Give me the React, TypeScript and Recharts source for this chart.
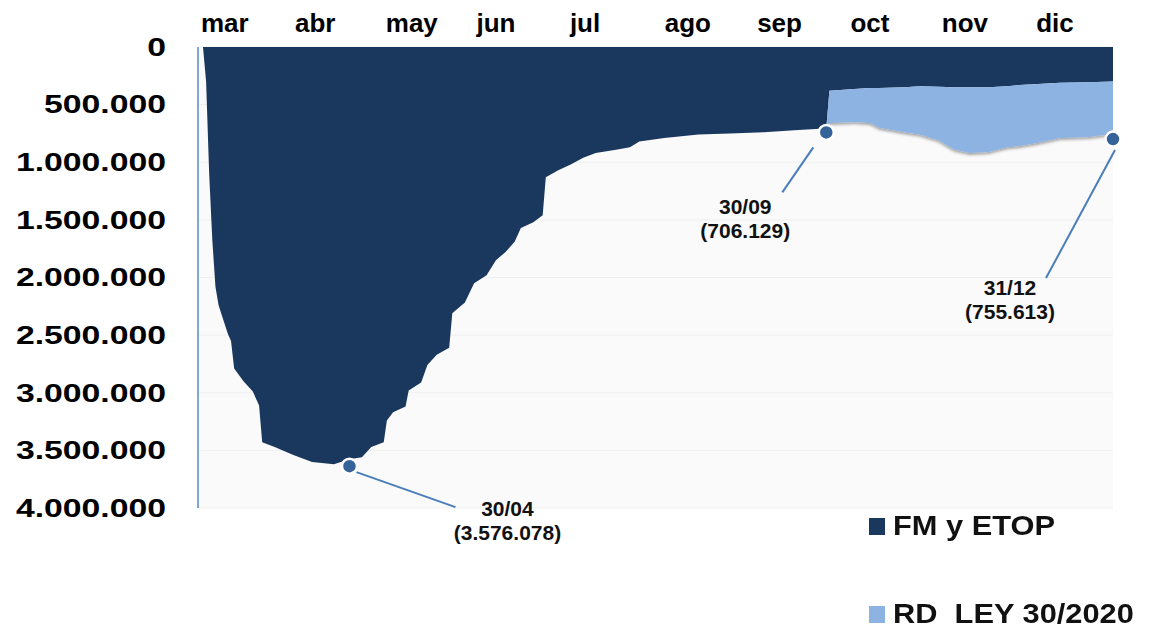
import {
  ComposedChart,
  Area,
  XAxis,
  YAxis,
  CartesianGrid,
  ReferenceDot,
} from 'recharts';

// day index: 0 = 1 March 2020
const days = [
  13, 14, 15, 16, 17, 18, 21, 22, 23, 26, 29, 31, 32, 36, 42, 48, 55, 60, 64, 67,
  71, 72, 74, 78, 79, 83, 85, 88, 92, 93, 96, 97, 100, 104, 107, 110, 113, 115, 119, 122,
  123, 127, 131, 135, 139, 146, 150, 153, 161, 172, 182, 193, 204, 211, 213,
  214, 222, 227, 230, 238, 243, 249, 254, 259, 265, 271, 275, 281, 288, 297, 305,
];

const fmEtop = [
  0, 300000, 1110000, 1680000, 2080000, 2240000, 2490000, 2550000, 2790000, 2900000,
  2990000, 3110000, 3430000, 3470000, 3540000, 3600000, 3620000, 3576078, 3560000, 3470000,
  3430000, 3240000, 3170000, 3120000, 2980000, 2910000, 2760000, 2670000, 2610000, 2310000,
  2240000, 2220000, 2050000, 1980000, 1850000, 1780000, 1690000, 1570000, 1520000, 1460000,
  1130000, 1070000, 1020000, 960000, 920000, 890000, 870000, 820000, 790000, 760000,
  750000, 740000, 720000, 710000, 706129,
  380000, 365000, 356000, 355000, 350000, 340000, 345000, 350000, 350000, 350000,
  340000, 330000, 320000, 310000, 305000, 300000,
];

const rdLey = [
  0, 0, 0, 0, 0, 0, 0, 0, 0, 0, 0, 0, 0, 0, 0, 0, 0, 0, 0, 0,
  0, 0, 0, 0, 0, 0, 0, 0, 0, 0, 0, 0, 0, 0, 0, 0, 0, 0, 0, 0,
  0, 0, 0, 0, 0, 0, 0, 0, 0, 0, 0, 0, 0, 0, 0,
  280000, 285000, 304000, 345000, 390000, 420000, 465000, 540000, 570000, 560000,
  530000, 530000, 510000, 480000, 475000, 455613,
];

const monthNames = ['mar', 'abr', 'may', 'jun', 'jul', 'ago', 'sep', 'oct', 'nov', 'dic'];
const monthTicks = [20, 49, 80, 107, 135.6, 168.6, 198, 227, 257.5, 286.4];

const yTicks = [0, 500000, 1000000, 1500000, 2000000, 2500000, 3000000, 3500000, 4000000];

const notes = [
  { day: 60, value: 3576078, date: '30/04', text: '(3.576.078)' },
  { day: 213, value: 706129, date: '30/09', text: '(706.129)' },
  { day: 305, value: 755613, date: '31/12', text: '(755.613)' },
];

const seriesNames = ['FM y ETOP', 'RD  LEY 30/2020'];

const DARK = '#1A375E';
const LIGHT = '#8DB3E2';
const FONT = '"Liberation Sans", Arial, sans-serif';

// pixel offsets of leader lines and labels relative to each dot
const noteLayout = [
  { dotDy: 7, l1: [7, 6], l2: [106, 41], tx: 158, ty1: 50, ty2: 74 },
  { dotDy: 4, l1: [-13, 15], l2: [-44, 60], tx: -81, ty1: 82, ty2: 106 },
  { dotDy: 5, l1: [2, 11], l2: [-67, 139], tx: -103, ty1: 156, ty2: 180 },
];

const data = days.map((d, i) => ({ day: d, fm: fmEtop[i], rd: rdLey[i] }));

const fmt = (v: number) => String(v).replace(/\B(?=(\d{3})+(?!\d))/g, '.');

function YTick({ x, y, payload }: any) {
  return (
    <text
      transform={`translate(${x},${y}) scale(1.35,1)`}
      textAnchor="end"
      dominantBaseline="central"
      fontFamily={FONT}
      fontWeight="bold"
      fontSize={25}
      fill="#000"
    >
      {fmt(payload.value)}
    </text>
  );
}

function noteShape(i: number) {
  const n = notes[i];
  const l = noteLayout[i];
  return (props: any) => {
    const cx = props.cx;
    const cy = props.cy + l.dotDy;
    return (
      <g>
        <line
          x1={cx + l.l1[0]}
          y1={cy + l.l1[1]}
          x2={cx + l.l2[0]}
          y2={cy + l.l2[1]}
          stroke="#4A7EBB"
          strokeWidth={2}
        />
        <circle cx={cx} cy={cy} r={7.5} fill="#36629A" stroke="#fff" strokeWidth={2.5} />
        <text
          x={cx + l.tx}
          y={cy + l.ty1}
          textAnchor="middle"
          fontFamily={FONT}
          fontWeight="bold"
          fontSize={21}
          fill="#111"
        >
          {n.date}
        </text>
        <text
          x={cx + l.tx}
          y={cy + l.ty2}
          textAnchor="middle"
          fontFamily={FONT}
          fontWeight="bold"
          fontSize={21}
          fill="#111"
        >
          {n.text}
        </text>
      </g>
    );
  };
}

export default function App() {
  return (
    <div style={{ position: 'absolute', left: 0, top: 0, width: 1151, height: 628, background: '#fff', overflow: 'hidden' }}>
      <ComposedChart
        width={1151}
        height={628}
        data={data}
        margin={{ top: 0, right: 38, left: 0, bottom: 120 }}
      >
        <defs>
          <filter id="rdShadow" x="-5%" y="-20%" width="110%" height="150%">
            <feDropShadow dx="0" dy="2" stdDeviation="1.5" floodColor="#000" floodOpacity="0.35" />
          </filter>
        </defs>
        <CartesianGrid fill="#fafafa" vertical={false} stroke="#efefef" />
        <XAxis
          dataKey="day"
          type="number"
          orientation="top"
          domain={[11.4, 305]}
          allowDataOverflow
          ticks={monthTicks}
          interval={0}
          tickFormatter={(v, i) => monthNames[i]}
          height={47}
          axisLine={false}
          tickLine={false}
          tickSize={0}
          tickMargin={15}
          tick={{ fill: '#000', fontSize: 26, fontWeight: 'bold', fontFamily: FONT }}
        />
        <YAxis
          reversed
          domain={[0, 4000000]}
          ticks={yTicks}
          interval={0}
          width={198}
          tick={<YTick />}
          tickLine={false}
          tickSize={0}
          tickMargin={32}
          axisLine={{ stroke: '#5B8BC7', strokeWidth: 1.5 }}
        />
        <Area
          dataKey="fm"
          name={seriesNames[0]}
          stackId="a"
          type="linear"
          fill={DARK}
          fillOpacity={1}
          stroke="none"
          isAnimationActive={false}
        />
        <Area
          dataKey="rd"
          name={seriesNames[1]}
          stackId="a"
          type="linear"
          fill={LIGHT}
          fillOpacity={1}
          stroke="none"
          filter="url(#rdShadow)"
          isAnimationActive={false}
        />
        {notes.map((n, i) => (
          <ReferenceDot
            key={n.date}
            x={n.day}
            y={n.value}
            r={7}
            ifOverflow="visible"
            shape={noteShape(i)}
          />
        ))}
      </ComposedChart>
      <div style={{ position: 'absolute', left: 869, top: 508, fontFamily: FONT, fontWeight: 'bold', fontSize: 28, lineHeight: '32px', color: '#111' }}>
        {seriesNames.map((s, i) => (
          <div key={s} style={{ display: 'flex', alignItems: 'center', height: 36, marginBottom: i === 0 ? 52 : 0 }}>
            <span style={{ width: 16, height: 17, background: i === 0 ? DARK : LIGHT, marginRight: 8, flex: 'none' }} />
            <span style={{ whiteSpace: 'pre', display: 'inline-block', transform: 'scaleX(1.1)', transformOrigin: 'left center' }}>{s}</span>
          </div>
        ))}
      </div>
    </div>
  );
}
